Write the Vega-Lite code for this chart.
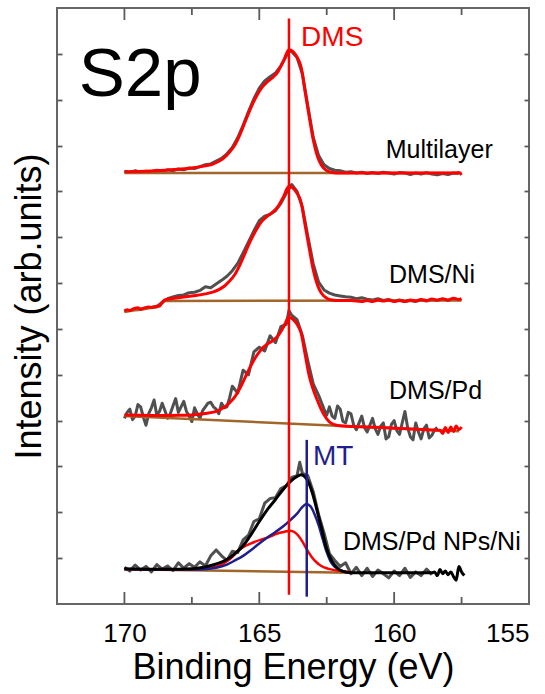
{
  "$schema": "https://vega.github.io/schema/vega-lite/v6.json",
  "width": 472,
  "height": 596,
  "autosize": "none",
  "padding": {"left": 57, "top": 8, "right": 16, "bottom": 90},
  "background": "white",
  "config": {
    "font": "Liberation Sans",
    "view": {"stroke": "#666666", "strokeWidth": 2},
    "axis": {"domain": false, "grid": false, "tickColor": "#5a5a5a", "tickWidth": 1.8, "labelFont": "Liberation Sans", "titleFont": "Liberation Sans", "titleFontWeight": "normal", "titleColor": "#000000", "labelColor": "#000000"}
  },
  "datasets": {
    "raw": [
      {"s":"Multilayer","x":170.0,"y":9.44},{"s":"Multilayer","x":169.8,"y":9.41},{"s":"Multilayer","x":169.6,"y":9.45},{"s":"Multilayer","x":169.4,"y":9.42},{"s":"Multilayer","x":169.2,"y":9.44},{"s":"Multilayer","x":169.0,"y":9.43},{"s":"Multilayer","x":168.8,"y":9.46},{"s":"Multilayer","x":168.6,"y":9.44},{"s":"Multilayer","x":168.4,"y":9.47},{"s":"Multilayer","x":168.2,"y":9.45},{"s":"Multilayer","x":168.0,"y":9.49},{"s":"Multilayer","x":167.8,"y":9.47},{"s":"Multilayer","x":167.6,"y":9.51},{"s":"Multilayer","x":167.4,"y":9.50},{"s":"Multilayer","x":167.2,"y":9.54},{"s":"Multilayer","x":167.0,"y":9.58},{"s":"Multilayer","x":166.8,"y":9.60},{"s":"Multilayer","x":166.6,"y":9.66},{"s":"Multilayer","x":166.4,"y":9.72},{"s":"Multilayer","x":166.2,"y":9.82},{"s":"Multilayer","x":166.0,"y":9.96},{"s":"Multilayer","x":165.8,"y":10.17},{"s":"Multilayer","x":165.6,"y":10.44},{"s":"Multilayer","x":165.4,"y":10.74},{"s":"Multilayer","x":165.2,"y":11.02},{"s":"Multilayer","x":165.0,"y":11.25},{"s":"Multilayer","x":164.8,"y":11.41},{"s":"Multilayer","x":164.6,"y":11.50},{"s":"Multilayer","x":164.4,"y":11.58},{"s":"Multilayer","x":164.2,"y":11.74},{"s":"Multilayer","x":164.0,"y":11.95},{"s":"Multilayer","x":163.9,"y":12.06},{"s":"Multilayer","x":163.8,"y":12.05},{"s":"Multilayer","x":163.6,"y":11.92},{"s":"Multilayer","x":163.4,"y":11.56},{"s":"Multilayer","x":163.2,"y":10.86},{"s":"Multilayer","x":163.0,"y":10.18},{"s":"Multilayer","x":162.8,"y":9.78},{"s":"Multilayer","x":162.6,"y":9.58},{"s":"Multilayer","x":162.4,"y":9.50},{"s":"Multilayer","x":162.2,"y":9.46},{"s":"Multilayer","x":162.0,"y":9.45},{"s":"Multilayer","x":161.8,"y":9.42},{"s":"Multilayer","x":161.6,"y":9.43},{"s":"Multilayer","x":161.4,"y":9.40},{"s":"Multilayer","x":161.2,"y":9.42},{"s":"Multilayer","x":161.0,"y":9.39},{"s":"Multilayer","x":160.8,"y":9.41},{"s":"Multilayer","x":160.6,"y":9.39},{"s":"Multilayer","x":160.4,"y":9.42},{"s":"Multilayer","x":160.2,"y":9.40},{"s":"Multilayer","x":160.0,"y":9.38},{"s":"Multilayer","x":159.8,"y":9.41},{"s":"Multilayer","x":159.6,"y":9.40},{"s":"Multilayer","x":159.4,"y":9.37},{"s":"Multilayer","x":159.2,"y":9.40},{"s":"Multilayer","x":159.0,"y":9.38},{"s":"Multilayer","x":158.8,"y":9.41},{"s":"Multilayer","x":158.6,"y":9.38},{"s":"Multilayer","x":158.4,"y":9.36},{"s":"Multilayer","x":158.2,"y":9.39},{"s":"Multilayer","x":158.0,"y":9.37},{"s":"Multilayer","x":157.8,"y":9.40},{"s":"Multilayer","x":157.6,"y":9.39},
      {"s":"Ni","x":170.0,"y":6.39},{"s":"Ni","x":169.8,"y":6.40},{"s":"Ni","x":169.6,"y":6.44},{"s":"Ni","x":169.4,"y":6.43},{"s":"Ni","x":169.2,"y":6.46},{"s":"Ni","x":169.0,"y":6.47},{"s":"Ni","x":168.8,"y":6.49},{"s":"Ni","x":168.6,"y":6.58},{"s":"Ni","x":168.4,"y":6.66},{"s":"Ni","x":168.2,"y":6.70},{"s":"Ni","x":168.0,"y":6.73},{"s":"Ni","x":167.8,"y":6.74},{"s":"Ni","x":167.6,"y":6.79},{"s":"Ni","x":167.4,"y":6.80},{"s":"Ni","x":167.2,"y":6.84},{"s":"Ni","x":167.0,"y":6.92},{"s":"Ni","x":166.8,"y":6.90},{"s":"Ni","x":166.6,"y":6.98},{"s":"Ni","x":166.4,"y":7.06},{"s":"Ni","x":166.2,"y":7.15},{"s":"Ni","x":166.0,"y":7.27},{"s":"Ni","x":165.8,"y":7.43},{"s":"Ni","x":165.6,"y":7.66},{"s":"Ni","x":165.4,"y":7.90},{"s":"Ni","x":165.2,"y":8.14},{"s":"Ni","x":165.0,"y":8.36},{"s":"Ni","x":164.8,"y":8.46},{"s":"Ni","x":164.6,"y":8.50},{"s":"Ni","x":164.4,"y":8.58},{"s":"Ni","x":164.2,"y":8.74},{"s":"Ni","x":164.0,"y":8.96},{"s":"Ni","x":163.9,"y":9.05},{"s":"Ni","x":163.8,"y":9.15},{"s":"Ni","x":163.6,"y":9.00},{"s":"Ni","x":163.4,"y":8.65},{"s":"Ni","x":163.2,"y":8.02},{"s":"Ni","x":163.0,"y":7.42},{"s":"Ni","x":162.8,"y":7.02},{"s":"Ni","x":162.6,"y":6.85},{"s":"Ni","x":162.4,"y":6.78},{"s":"Ni","x":162.2,"y":6.74},{"s":"Ni","x":162.0,"y":6.72},{"s":"Ni","x":161.8,"y":6.70},{"s":"Ni","x":161.6,"y":6.69},{"s":"Ni","x":161.4,"y":6.66},{"s":"Ni","x":161.2,"y":6.68},{"s":"Ni","x":161.0,"y":6.65},{"s":"Ni","x":160.8,"y":6.63},{"s":"Ni","x":160.6,"y":6.66},{"s":"Ni","x":160.4,"y":6.62},{"s":"Ni","x":160.2,"y":6.64},{"s":"Ni","x":160.0,"y":6.61},{"s":"Ni","x":159.8,"y":6.63},{"s":"Ni","x":159.6,"y":6.60},{"s":"Ni","x":159.4,"y":6.62},{"s":"Ni","x":159.2,"y":6.60},{"s":"Ni","x":159.0,"y":6.63},{"s":"Ni","x":158.8,"y":6.61},{"s":"Ni","x":158.6,"y":6.64},{"s":"Ni","x":158.4,"y":6.62},{"s":"Ni","x":158.2,"y":6.65},{"s":"Ni","x":158.0,"y":6.62},{"s":"Ni","x":157.8,"y":6.66},{"s":"Ni","x":157.6,"y":6.63},
      {"s":"Pd","x":170.0,"y":4.05},{"s":"Pd","x":169.9,"y":4.18},{"s":"Pd","x":169.8,"y":4.25},{"s":"Pd","x":169.7,"y":4.02},{"s":"Pd","x":169.6,"y":4.10},{"s":"Pd","x":169.5,"y":4.35},{"s":"Pd","x":169.4,"y":4.30},{"s":"Pd","x":169.3,"y":4.08},{"s":"Pd","x":169.2,"y":3.90},{"s":"Pd","x":169.1,"y":4.15},{"s":"Pd","x":169.0,"y":4.28},{"s":"Pd","x":168.9,"y":4.45},{"s":"Pd","x":168.8,"y":4.12},{"s":"Pd","x":168.7,"y":4.20},{"s":"Pd","x":168.6,"y":4.38},{"s":"Pd","x":168.5,"y":4.22},{"s":"Pd","x":168.4,"y":4.05},{"s":"Pd","x":168.3,"y":4.15},{"s":"Pd","x":168.2,"y":4.32},{"s":"Pd","x":168.1,"y":4.48},{"s":"Pd","x":168.0,"y":4.18},{"s":"Pd","x":167.9,"y":4.30},{"s":"Pd","x":167.8,"y":4.42},{"s":"Pd","x":167.7,"y":4.20},{"s":"Pd","x":167.6,"y":4.10},{"s":"Pd","x":167.5,"y":3.98},{"s":"Pd","x":167.4,"y":4.28},{"s":"Pd","x":167.3,"y":4.15},{"s":"Pd","x":167.2,"y":4.05},{"s":"Pd","x":167.1,"y":4.22},{"s":"Pd","x":167.0,"y":4.30},{"s":"Pd","x":166.9,"y":4.38},{"s":"Pd","x":166.8,"y":4.40},{"s":"Pd","x":166.7,"y":4.30},{"s":"Pd","x":166.6,"y":4.25},{"s":"Pd","x":166.5,"y":4.15},{"s":"Pd","x":166.4,"y":4.38},{"s":"Pd","x":166.3,"y":4.28},{"s":"Pd","x":166.2,"y":4.30},{"s":"Pd","x":166.1,"y":4.50},{"s":"Pd","x":166.0,"y":4.75},{"s":"Pd","x":165.8,"y":4.60},{"s":"Pd","x":165.6,"y":5.10},{"s":"Pd","x":165.4,"y":5.00},{"s":"Pd","x":165.2,"y":5.50},{"s":"Pd","x":165.0,"y":5.60},{"s":"Pd","x":164.8,"y":5.52},{"s":"Pd","x":164.6,"y":5.85},{"s":"Pd","x":164.4,"y":5.70},{"s":"Pd","x":164.2,"y":6.05},{"s":"Pd","x":164.0,"y":6.10},{"s":"Pd","x":163.9,"y":6.40},{"s":"Pd","x":163.8,"y":6.30},{"s":"Pd","x":163.6,"y":6.20},{"s":"Pd","x":163.4,"y":5.85},{"s":"Pd","x":163.2,"y":5.30},{"s":"Pd","x":163.0,"y":4.80},{"s":"Pd","x":162.8,"y":4.55},{"s":"Pd","x":162.6,"y":4.25},{"s":"Pd","x":162.5,"y":4.12},{"s":"Pd","x":162.4,"y":4.30},{"s":"Pd","x":162.3,"y":4.10},{"s":"Pd","x":162.2,"y":4.05},{"s":"Pd","x":162.1,"y":4.32},{"s":"Pd","x":162.0,"y":4.25},{"s":"Pd","x":161.9,"y":3.98},{"s":"Pd","x":161.8,"y":3.95},{"s":"Pd","x":161.7,"y":4.18},{"s":"Pd","x":161.6,"y":4.15},{"s":"Pd","x":161.5,"y":3.90},{"s":"Pd","x":161.4,"y":3.80},{"s":"Pd","x":161.3,"y":3.95},{"s":"Pd","x":161.2,"y":4.10},{"s":"Pd","x":161.1,"y":3.85},{"s":"Pd","x":161.0,"y":3.75},{"s":"Pd","x":160.9,"y":3.90},{"s":"Pd","x":160.8,"y":4.05},{"s":"Pd","x":160.7,"y":3.82},{"s":"Pd","x":160.6,"y":3.70},{"s":"Pd","x":160.5,"y":3.88},{"s":"Pd","x":160.4,"y":3.95},{"s":"Pd","x":160.3,"y":3.60},{"s":"Pd","x":160.2,"y":3.65},{"s":"Pd","x":160.1,"y":3.92},{"s":"Pd","x":160.0,"y":4.00},{"s":"Pd","x":159.9,"y":3.78},{"s":"Pd","x":159.8,"y":3.70},{"s":"Pd","x":159.7,"y":3.95},{"s":"Pd","x":159.6,"y":4.20},{"s":"Pd","x":159.5,"y":3.85},{"s":"Pd","x":159.4,"y":3.65},{"s":"Pd","x":159.3,"y":3.58},{"s":"Pd","x":159.2,"y":3.95},{"s":"Pd","x":159.1,"y":3.75},{"s":"Pd","x":159.0,"y":3.60},{"s":"Pd","x":158.9,"y":3.82},{"s":"Pd","x":158.8,"y":3.90},{"s":"Pd","x":158.7,"y":3.62},{"s":"Pd","x":158.6,"y":3.68},{"s":"Pd","x":158.5,"y":3.80},{"s":"Pd","x":158.4,"y":3.85},
      {"s":"NP","x":170.0,"y":0.80},{"s":"NP","x":169.8,"y":0.72},{"s":"NP","x":169.6,"y":0.85},{"s":"NP","x":169.4,"y":0.74},{"s":"NP","x":169.2,"y":0.82},{"s":"NP","x":169.0,"y":0.70},{"s":"NP","x":168.8,"y":0.86},{"s":"NP","x":168.6,"y":0.76},{"s":"NP","x":168.4,"y":0.83},{"s":"NP","x":168.2,"y":0.73},{"s":"NP","x":168.0,"y":0.90},{"s":"NP","x":167.8,"y":0.78},{"s":"NP","x":167.6,"y":0.88},{"s":"NP","x":167.4,"y":0.80},{"s":"NP","x":167.2,"y":0.92},{"s":"NP","x":167.0,"y":0.83},{"s":"NP","x":166.8,"y":1.05},{"s":"NP","x":166.6,"y":1.18},{"s":"NP","x":166.4,"y":1.05},{"s":"NP","x":166.2,"y":0.95},{"s":"NP","x":166.0,"y":1.15},{"s":"NP","x":165.8,"y":1.12},{"s":"NP","x":165.6,"y":1.40},{"s":"NP","x":165.4,"y":1.50},{"s":"NP","x":165.2,"y":1.80},{"s":"NP","x":165.0,"y":1.86},{"s":"NP","x":164.8,"y":2.20},{"s":"NP","x":164.6,"y":2.30},{"s":"NP","x":164.4,"y":2.32},{"s":"NP","x":164.2,"y":2.52},{"s":"NP","x":164.0,"y":2.58},{"s":"NP","x":163.8,"y":2.76},{"s":"NP","x":163.6,"y":2.80},{"s":"NP","x":163.5,"y":3.09},{"s":"NP","x":163.4,"y":2.85},{"s":"NP","x":163.2,"y":2.80},{"s":"NP","x":163.0,"y":2.45},{"s":"NP","x":162.8,"y":1.95},{"s":"NP","x":162.6,"y":1.55},{"s":"NP","x":162.4,"y":1.10},{"s":"NP","x":162.2,"y":0.95},{"s":"NP","x":162.0,"y":0.82},{"s":"NP","x":161.8,"y":0.90},{"s":"NP","x":161.6,"y":0.66},{"s":"NP","x":161.4,"y":0.80},{"s":"NP","x":161.2,"y":0.62},{"s":"NP","x":161.0,"y":0.78},{"s":"NP","x":160.8,"y":0.60},{"s":"NP","x":160.6,"y":0.74},{"s":"NP","x":160.4,"y":0.66},{"s":"NP","x":160.2,"y":0.57},{"s":"NP","x":160.0,"y":0.72},{"s":"NP","x":159.8,"y":0.62},{"s":"NP","x":159.6,"y":0.78},{"s":"NP","x":159.4,"y":0.58},{"s":"NP","x":159.2,"y":0.70},{"s":"NP","x":159.0,"y":0.62},{"s":"NP","x":158.8,"y":0.76},{"s":"NP","x":158.6,"y":0.64}
    ],
    "base": [
      {"s":"Multilayer","x":170.0,"y":9.40},{"s":"Multilayer","x":157.5,"y":9.40},
      {"s":"Ni","x":170.0,"y":6.37},{"s":"Ni","x":169.7,"y":6.40},{"s":"Ni","x":169.4,"y":6.42},{"s":"Ni","x":169.1,"y":6.45},{"s":"Ni","x":168.8,"y":6.47},{"s":"Ni","x":168.6,"y":6.56},{"s":"Ni","x":168.5,"y":6.61},{"s":"Ni","x":157.5,"y":6.62},
      {"s":"Pd","x":170.0,"y":4.10},{"s":"Pd","x":157.6,"y":3.77},
      {"s":"NP","x":170.0,"y":0.76},{"s":"NP","x":161.6,"y":0.68}
    ],
    "fit": [
      {"s":"Multilayer","x":170.0,"y":9.427},{"s":"Multilayer","x":169.5,"y":9.435},{"s":"Multilayer","x":169.0,"y":9.446},{"s":"Multilayer","x":168.5,"y":9.459},{"s":"Multilayer","x":168.0,"y":9.481},{"s":"Multilayer","x":167.5,"y":9.508},{"s":"Multilayer","x":167.0,"y":9.556},{"s":"Multilayer","x":166.7,"y":9.602},{"s":"Multilayer","x":166.5,"y":9.656},{"s":"Multilayer","x":166.3,"y":9.736},{"s":"Multilayer","x":166.1,"y":9.857},{"s":"Multilayer","x":165.9,"y":10.019},{"s":"Multilayer","x":165.7,"y":10.261},{"s":"Multilayer","x":165.5,"y":10.557},{"s":"Multilayer","x":165.3,"y":10.839},{"s":"Multilayer","x":165.1,"y":11.081},{"s":"Multilayer","x":164.9,"y":11.27},{"s":"Multilayer","x":164.7,"y":11.391},{"s":"Multilayer","x":164.5,"y":11.485},{"s":"Multilayer","x":164.3,"y":11.619},{"s":"Multilayer","x":164.1,"y":11.848},{"s":"Multilayer","x":163.9,"y":12.09},{"s":"Multilayer","x":163.75,"y":12.05},{"s":"Multilayer","x":163.6,"y":11.929},{"s":"Multilayer","x":163.45,"y":11.713},{"s":"Multilayer","x":163.3,"y":11.175},{"s":"Multilayer","x":163.15,"y":10.637},{"s":"Multilayer","x":163.0,"y":10.126},{"s":"Multilayer","x":162.85,"y":9.777},{"s":"Multilayer","x":162.7,"y":9.575},{"s":"Multilayer","x":162.5,"y":9.454},{"s":"Multilayer","x":162.3,"y":9.413},{"s":"Multilayer","x":162.0,"y":9.40},{"s":"Multilayer","x":161.0,"y":9.40},{"s":"Multilayer","x":160.0,"y":9.40},{"s":"Multilayer","x":159.0,"y":9.40},{"s":"Multilayer","x":158.0,"y":9.40},{"s":"Multilayer","x":157.7,"y":9.40},{"s":"Multilayer","x":157.6,"y":9.41},{"s":"Multilayer","x":157.5,"y":9.36},
      {"s":"Ni","x":170.0,"y":6.39},{"s":"Ni","x":169.9,"y":6.42},{"s":"Ni","x":169.8,"y":6.40},{"s":"Ni","x":169.65,"y":6.44},{"s":"Ni","x":169.5,"y":6.46},{"s":"Ni","x":169.4,"y":6.43},{"s":"Ni","x":169.25,"y":6.46},{"s":"Ni","x":169.1,"y":6.48},{"s":"Ni","x":169.0,"y":6.47},{"s":"Ni","x":168.85,"y":6.49},{"s":"Ni","x":168.7,"y":6.50},{"s":"Ni","x":168.6,"y":6.58},{"s":"Ni","x":168.5,"y":6.63},{"s":"Ni","x":168.0,"y":6.68},{"s":"Ni","x":167.5,"y":6.72},{"s":"Ni","x":167.0,"y":6.764},{"s":"Ni","x":166.7,"y":6.807},{"s":"Ni","x":166.5,"y":6.857},{"s":"Ni","x":166.3,"y":6.931},{"s":"Ni","x":166.1,"y":7.043},{"s":"Ni","x":165.9,"y":7.193},{"s":"Ni","x":165.7,"y":7.417},{"s":"Ni","x":165.5,"y":7.691},{"s":"Ni","x":165.3,"y":7.952},{"s":"Ni","x":165.1,"y":8.176},{"s":"Ni","x":164.9,"y":8.351},{"s":"Ni","x":164.7,"y":8.463},{"s":"Ni","x":164.5,"y":8.55},{"s":"Ni","x":164.3,"y":8.674},{"s":"Ni","x":164.1,"y":8.886},{"s":"Ni","x":163.9,"y":9.11},{"s":"Ni","x":163.75,"y":9.073},{"s":"Ni","x":163.6,"y":8.961},{"s":"Ni","x":163.45,"y":8.761},{"s":"Ni","x":163.3,"y":8.263},{"s":"Ni","x":163.15,"y":7.765},{"s":"Ni","x":163.0,"y":7.292},{"s":"Ni","x":162.85,"y":6.969},{"s":"Ni","x":162.7,"y":6.782},{"s":"Ni","x":162.5,"y":6.67},{"s":"Ni","x":162.3,"y":6.632},{"s":"Ni","x":162.0,"y":6.62},{"s":"Ni","x":161.6,"y":6.62},{"s":"Ni","x":161.2,"y":6.60},{"s":"Ni","x":161.0,"y":6.62},{"s":"Ni","x":160.8,"y":6.60},{"s":"Ni","x":160.6,"y":6.63},{"s":"Ni","x":160.4,"y":6.61},{"s":"Ni","x":160.2,"y":6.63},{"s":"Ni","x":160.0,"y":6.60},{"s":"Ni","x":159.8,"y":6.62},{"s":"Ni","x":159.6,"y":6.60},{"s":"Ni","x":159.4,"y":6.63},{"s":"Ni","x":159.2,"y":6.61},{"s":"Ni","x":159.0,"y":6.64},{"s":"Ni","x":158.8,"y":6.62},{"s":"Ni","x":158.6,"y":6.65},{"s":"Ni","x":158.4,"y":6.63},{"s":"Ni","x":158.2,"y":6.66},{"s":"Ni","x":158.0,"y":6.63},{"s":"Ni","x":157.8,"y":6.67},{"s":"Ni","x":157.6,"y":6.64},{"s":"Ni","x":157.5,"y":6.66},
      {"s":"Pd","x":170.0,"y":4.122},{"s":"Pd","x":169.5,"y":4.116},{"s":"Pd","x":169.0,"y":4.111},{"s":"Pd","x":168.5,"y":4.11},{"s":"Pd","x":168.0,"y":4.115},{"s":"Pd","x":167.5,"y":4.125},{"s":"Pd","x":167.0,"y":4.154},{"s":"Pd","x":166.7,"y":4.185},{"s":"Pd","x":166.5,"y":4.225},{"s":"Pd","x":166.3,"y":4.29},{"s":"Pd","x":166.1,"y":4.389},{"s":"Pd","x":165.9,"y":4.522},{"s":"Pd","x":165.7,"y":4.724},{"s":"Pd","x":165.5,"y":4.973},{"s":"Pd","x":165.3,"y":5.211},{"s":"Pd","x":165.1,"y":5.414},{"s":"Pd","x":164.9,"y":5.569},{"s":"Pd","x":164.7,"y":5.668},{"s":"Pd","x":164.5,"y":5.744},{"s":"Pd","x":164.3,"y":5.854},{"s":"Pd","x":164.1,"y":6.045},{"s":"Pd","x":163.9,"y":6.248},{"s":"Pd","x":163.75,"y":6.209},{"s":"Pd","x":163.6,"y":6.101},{"s":"Pd","x":163.45,"y":5.913},{"s":"Pd","x":163.3,"y":5.447},{"s":"Pd","x":163.15,"y":4.981},{"s":"Pd","x":163.0,"y":4.68},{"s":"Pd","x":162.85,"y":4.45},{"s":"Pd","x":162.7,"y":4.24},{"s":"Pd","x":162.5,"y":4.04},{"s":"Pd","x":162.3,"y":3.93},{"s":"Pd","x":162.1,"y":3.895},{"s":"Pd","x":161.5,"y":3.87},{"s":"Pd","x":161.0,"y":3.861},{"s":"Pd","x":160.0,"y":3.835},{"s":"Pd","x":159.0,"y":3.808},{"s":"Pd","x":158.3,"y":3.79},{"s":"Pd","x":158.2,"y":3.72},{"s":"Pd","x":158.1,"y":3.85},{"s":"Pd","x":158.0,"y":3.74},{"s":"Pd","x":157.9,"y":3.86},{"s":"Pd","x":157.8,"y":3.76},{"s":"Pd","x":157.7,"y":3.88},{"s":"Pd","x":157.6,"y":3.80},{"s":"Pd","x":157.5,"y":3.86}
    ],
    "comp": [
      {"c":"DMS","x":170.0,"y":0.76},{"c":"DMS","x":168.0,"y":0.75},{"c":"DMS","x":167.0,"y":0.77},{"c":"DMS","x":166.7,"y":0.80},{"c":"DMS","x":166.46,"y":0.84},{"c":"DMS","x":166.2,"y":0.93},{"c":"DMS","x":166.0,"y":1.03},{"c":"DMS","x":165.84,"y":1.13},{"c":"DMS","x":165.6,"y":1.24},{"c":"DMS","x":165.35,"y":1.31},{"c":"DMS","x":165.1,"y":1.37},{"c":"DMS","x":164.85,"y":1.42},{"c":"DMS","x":164.6,"y":1.47},{"c":"DMS","x":164.36,"y":1.53},{"c":"DMS","x":164.1,"y":1.57},{"c":"DMS","x":163.86,"y":1.60},{"c":"DMS","x":163.7,"y":1.57},{"c":"DMS","x":163.55,"y":1.49},{"c":"DMS","x":163.4,"y":1.36},{"c":"DMS","x":163.25,"y":1.20},{"c":"DMS","x":163.05,"y":1.02},{"c":"DMS","x":162.88,"y":0.91},{"c":"DMS","x":162.7,"y":0.83},{"c":"DMS","x":162.5,"y":0.78},{"c":"DMS","x":162.38,"y":0.76},{"c":"DMS","x":162.0,"y":0.72},{"c":"DMS","x":161.64,"y":0.70},
      {"c":"MT","x":170.0,"y":0.76},{"c":"MT","x":169.0,"y":0.755},{"c":"MT","x":168.0,"y":0.75},{"c":"MT","x":167.5,"y":0.75},{"c":"MT","x":167.0,"y":0.76},{"c":"MT","x":166.6,"y":0.79},{"c":"MT","x":166.2,"y":0.86},{"c":"MT","x":165.9,"y":0.95},{"c":"MT","x":165.6,"y":1.05},{"c":"MT","x":165.3,"y":1.18},{"c":"MT","x":165.0,"y":1.32},{"c":"MT","x":164.7,"y":1.45},{"c":"MT","x":164.4,"y":1.57},{"c":"MT","x":164.1,"y":1.70},{"c":"MT","x":163.85,"y":1.83},{"c":"MT","x":163.6,"y":1.97},{"c":"MT","x":163.4,"y":2.12},{"c":"MT","x":163.25,"y":2.18},{"c":"MT","x":163.1,"y":2.13},{"c":"MT","x":162.95,"y":1.96},{"c":"MT","x":162.8,"y":1.72},{"c":"MT","x":162.65,"y":1.42},{"c":"MT","x":162.5,"y":1.13},{"c":"MT","x":162.35,"y":0.92},{"c":"MT","x":162.2,"y":0.81},{"c":"MT","x":162.0,"y":0.74},{"c":"MT","x":161.8,"y":0.70},{"c":"MT","x":161.6,"y":0.69}
    ],
    "total": [
      {"x":170.0,"y":0.77},{"x":169.0,"y":0.76},{"x":168.0,"y":0.76},{"x":167.5,"y":0.77},{"x":167.0,"y":0.81},{"x":166.8,"y":0.84},{"x":166.5,"y":0.89},{"x":166.2,"y":0.97},{"x":165.9,"y":1.10},{"x":165.6,"y":1.27},{"x":165.3,"y":1.52},{"x":165.0,"y":1.80},{"x":164.7,"y":2.06},{"x":164.4,"y":2.28},{"x":164.1,"y":2.51},{"x":163.85,"y":2.67},{"x":163.6,"y":2.78},{"x":163.45,"y":2.82},{"x":163.3,"y":2.77},{"x":163.15,"y":2.62},{"x":163.0,"y":2.36},{"x":162.85,"y":2.02},{"x":162.7,"y":1.67},{"x":162.5,"y":1.20},{"x":162.3,"y":0.93},{"x":162.1,"y":0.78},{"x":161.9,"y":0.71},{"x":161.6,"y":0.68},{"x":161.0,"y":0.68},{"x":160.0,"y":0.68},{"x":159.0,"y":0.68},{"x":158.6,"y":0.68},{"x":158.5,"y":0.70},{"x":158.4,"y":0.62},{"x":158.3,"y":0.75},{"x":158.2,"y":0.66},{"x":158.1,"y":0.72},{"x":158.0,"y":0.64},{"x":157.9,"y":0.70},{"x":157.8,"y":0.60},{"x":157.7,"y":0.52},{"x":157.6,"y":0.82},{"x":157.5,"y":0.70},{"x":157.4,"y":0.62}
    ],
    "markers": [
      {"name":"DMS","x":163.9,"y":12.77,"y2":0.2},
      {"name":"MT","x":163.24,"y":3.58,"y2":0.16}
    ],
    "labels": [
      {"t":"Multilayer","x":160.31,"y":9.73},
      {"t":"DMS/Ni","x":160.19,"y":7.0},
      {"t":"DMS/Pd","x":160.19,"y":4.47},
      {"t":"DMS/Pd NPs/Ni","x":161.9,"y":1.18}
    ],
    "majorTicks": [{"x":170},{"x":165},{"x":160}],
    "minorTicks": [{"x":167.5},{"x":162.5},{"x":157.5}]
  },
  "resolve": {"axis": {"x": "independent", "y": "independent"}},
  "layer": [
    {
      "data": {"name": "majorTicks"},
      "mark": {"type": "rule", "color": "#5a5a5a", "strokeWidth": 1.8},
      "encoding": {
        "x": {"field": "x", "type": "quantitative", "scale": {"domain": [155, 172.5], "reverse": true, "nice": false, "zero": false},
          "axis": {"orient": "bottom", "values": [170, 165, 160, 155], "ticks": false, "labelFontSize": 26, "labelPadding": 16, "labelDx": -12, "title": "Binding Energy (eV)", "titleFontSize": 36, "titlePadding": 4}},
        "y": {"datum": 0, "type": "quantitative", "scale": {"domain": [0, 13], "nice": false, "zero": false},
          "axis": {"orient": "left", "values": [1,2,3,4,5,6,7,8,9,10,11,12], "tickSize": -5, "labels": false, "title": "Intensity (arb.units)", "titleFontSize": 36, "titlePadding": 8}},
        "y2": {"datum": 0.262}
      }
    },
    {
      "data": {"name": "majorTicks"},
      "mark": {"type": "rule", "color": "#5a5a5a", "strokeWidth": 1.8},
      "encoding": {
        "x": {"field": "x", "type": "quantitative", "scale": {"domain": [155, 172.5], "reverse": true, "nice": false, "zero": false}, "axis": null},
        "y": {"datum": 13, "type": "quantitative", "scale": {"domain": [0, 13], "nice": false, "zero": false}, "axis": null},
        "y2": {"datum": 12.738}
      }
    },
    {
      "data": {"name": "minorTicks"},
      "mark": {"type": "rule", "color": "#5a5a5a", "strokeWidth": 1.8},
      "encoding": {
        "x": {"field": "x", "type": "quantitative", "scale": {"domain": [155, 172.5], "reverse": true, "nice": false, "zero": false}, "axis": null},
        "y": {"datum": 0, "type": "quantitative", "scale": {"domain": [0, 13], "nice": false, "zero": false}, "axis": null},
        "y2": {"datum": 0.153}
      }
    },
    {
      "data": {"name": "minorTicks"},
      "mark": {"type": "rule", "color": "#5a5a5a", "strokeWidth": 1.8},
      "encoding": {
        "x": {"field": "x", "type": "quantitative", "scale": {"domain": [155, 172.5], "reverse": true, "nice": false, "zero": false}, "axis": null},
        "y": {"datum": 13, "type": "quantitative", "scale": {"domain": [0, 13], "nice": false, "zero": false}, "axis": null},
        "y2": {"datum": 12.847}
      }
    },
    {
      "data": {"name": "raw"},
      "mark": {"type": "line", "color": "#505050", "strokeWidth": 3, "strokeJoin": "round"},
      "encoding": {
        "x": {"field": "x", "type": "quantitative", "scale": {"domain": [155, 172.5], "reverse": true, "nice": false, "zero": false}, "axis": null},
        "y": {"field": "y", "type": "quantitative", "scale": {"domain": [0, 13], "nice": false, "zero": false}, "axis": null},
        "detail": {"field": "s"}
      }
    },
    {
      "data": {"name": "base"},
      "mark": {"type": "line", "color": "#a0662a", "strokeWidth": 2.5},
      "encoding": {
        "x": {"field": "x", "type": "quantitative", "scale": {"domain": [155, 172.5], "reverse": true, "nice": false, "zero": false}, "axis": null},
        "y": {"field": "y", "type": "quantitative", "scale": {"domain": [0, 13], "nice": false, "zero": false}, "axis": null},
        "detail": {"field": "s"}
      }
    },
    {
      "data": {"name": "fit"},
      "mark": {"type": "line", "color": "#ff0000", "strokeWidth": 3, "interpolate": "monotone", "strokeJoin": "round"},
      "encoding": {
        "x": {"field": "x", "type": "quantitative", "scale": {"domain": [155, 172.5], "reverse": true, "nice": false, "zero": false}, "axis": null},
        "y": {"field": "y", "type": "quantitative", "scale": {"domain": [0, 13], "nice": false, "zero": false}, "axis": null},
        "detail": {"field": "s"}
      }
    },
    {
      "data": {"name": "comp"},
      "mark": {"type": "line", "strokeWidth": 2.5, "interpolate": "monotone"},
      "encoding": {
        "x": {"field": "x", "type": "quantitative", "scale": {"domain": [155, 172.5], "reverse": true, "nice": false, "zero": false}, "axis": null},
        "y": {"field": "y", "type": "quantitative", "scale": {"domain": [0, 13], "nice": false, "zero": false}, "axis": null},
        "color": {"field": "c", "type": "nominal", "scale": {"domain": ["DMS", "MT"], "range": ["#ff0000", "#1f1f8c"]}, "legend": null}
      }
    },
    {
      "data": {"name": "total"},
      "mark": {"type": "line", "color": "#000000", "strokeWidth": 3, "interpolate": "monotone", "strokeJoin": "round"},
      "encoding": {
        "x": {"field": "x", "type": "quantitative", "scale": {"domain": [155, 172.5], "reverse": true, "nice": false, "zero": false}, "axis": null},
        "y": {"field": "y", "type": "quantitative", "scale": {"domain": [0, 13], "nice": false, "zero": false}, "axis": null}
      }
    },
    {
      "data": {"name": "markers"},
      "mark": {"type": "rule", "strokeWidth": 2.5},
      "encoding": {
        "x": {"field": "x", "type": "quantitative", "scale": {"domain": [155, 172.5], "reverse": true, "nice": false, "zero": false}, "axis": null},
        "y": {"field": "y", "type": "quantitative", "scale": {"domain": [0, 13], "nice": false, "zero": false},
          "axis": {"orient": "right", "values": [1,2,3,4,5,6,7,8,9,10,11,12], "tickSize": -5, "labels": false, "title": null}},
        "y2": {"field": "y2"},
        "color": {"field": "name", "type": "nominal", "scale": {"domain": ["DMS", "MT"], "range": ["#ff0000", "#1f1f8c"]}, "legend": null}
      }
    },
    {
      "data": {"name": "labels"},
      "mark": {"type": "text", "align": "left", "baseline": "alphabetic", "fontSize": 25, "color": "#000000", "font": "Liberation Sans"},
      "encoding": {
        "x": {"field": "x", "type": "quantitative", "scale": {"domain": [155, 172.5], "reverse": true, "nice": false, "zero": false}, "axis": null},
        "y": {"field": "y", "type": "quantitative", "scale": {"domain": [0, 13], "nice": false, "zero": false}, "axis": null},
        "text": {"field": "t"}
      }
    },
    {
      "data": {"values": [{"t": "S2p", "x": 171.69, "y": 11.07}]},
      "mark": {"type": "text", "align": "left", "baseline": "alphabetic", "fontSize": 69, "color": "#000000", "font": "Liberation Sans"},
      "encoding": {
        "x": {"field": "x", "type": "quantitative", "scale": {"domain": [155, 172.5], "reverse": true, "nice": false, "zero": false}, "axis": null},
        "y": {"field": "y", "type": "quantitative", "scale": {"domain": [0, 13], "nice": false, "zero": false}, "axis": null},
        "text": {"field": "t"}
      }
    },
    {
      "data": {"values": [{"t": "DMS", "x": 163.45, "y": 12.18}]},
      "mark": {"type": "text", "align": "left", "baseline": "alphabetic", "fontSize": 28, "color": "#ff0000", "font": "Liberation Sans"},
      "encoding": {
        "x": {"field": "x", "type": "quantitative", "scale": {"domain": [155, 172.5], "reverse": true, "nice": false, "zero": false}, "axis": null},
        "y": {"field": "y", "type": "quantitative", "scale": {"domain": [0, 13], "nice": false, "zero": false}, "axis": null},
        "text": {"field": "t"}
      }
    },
    {
      "data": {"values": [{"t": "MT", "x": 163.01, "y": 3.03}]},
      "mark": {"type": "text", "align": "left", "baseline": "alphabetic", "fontSize": 28, "color": "#1f1f8c", "font": "Liberation Sans"},
      "encoding": {
        "x": {"field": "x", "type": "quantitative", "scale": {"domain": [155, 172.5], "reverse": true, "nice": false, "zero": false}, "axis": null},
        "y": {"field": "y", "type": "quantitative", "scale": {"domain": [0, 13], "nice": false, "zero": false}, "axis": null},
        "text": {"field": "t"}
      }
    }
  ]
}
